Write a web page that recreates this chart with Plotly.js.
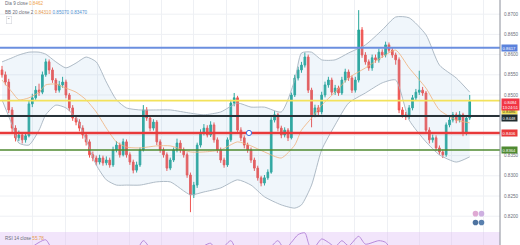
<!DOCTYPE html>
<html><head><meta charset="utf-8">
<script src="https://cdn.plot.ly/plotly-3.0.1.min.js"></script>
<style>html,body{margin:0;padding:0;background:#fff;overflow:hidden}#chart{width:520px;height:245px}</style>
</head><body><div id="chart"></div>
<script>
// ---- price data (daily candles) ----
const openP = [
0.8562,0.8550,0.8532,0.8463,0.8418,0.8394,0.8401,0.8389,0.8399,0.8478,
0.8493,0.8512,0.8507,0.8550,0.8582,0.8562,0.8537,0.8512,0.8525,0.8532,
0.8500,0.8468,0.8443,0.8433,0.8418,0.8401,0.8384,0.8352,0.8344,0.8334,
0.8344,0.8332,0.8339,0.8327,0.8364,0.8376,0.8352,0.8384,0.8352,0.8334,
0.8314,0.8327,0.8364,0.8463,0.8443,0.8418,0.8433,0.8384,0.8364,0.8352,
0.8319,0.8339,0.8364,0.8381,0.8364,0.8352,0.8302,0.8253,0.8277,0.8376,
0.8406,0.8418,0.8401,0.8426,0.8389,0.8364,0.8339,0.8327,0.8389,0.8480,
0.8493,0.8413,0.8394,0.8376,0.8364,0.8339,0.8319,0.8295,0.8282,0.8295,
0.8309,0.8438,0.8451,0.8418,0.8401,0.8413,0.8394,0.8500,0.8542,0.8562,
0.8574,0.8594,0.8512,0.8451,0.8468,0.8458,0.8500,0.8525,0.8537,0.8507,
0.8517,0.8505,0.8537,0.8557,0.8542,0.8512,0.8537,0.8661,0.8599,0.8582,
0.8567,0.8592,0.8587,0.8606,0.8599,0.8624,0.8611,0.8599,0.8587,0.8463,
0.8451,0.8446,0.8468,0.8493,0.8507,0.8512,0.8505,0.8413,0.8389,0.8394,
0.8369,0.8359,0.8352,0.8426,0.8438,0.8451,0.8438,0.8451,0.8406,0.8443];
const highP = [
0.8572,0.8558,0.8540,0.8470,0.8425,0.8412,0.8408,0.8407,0.8486,0.8503,
0.8522,0.8528,0.8558,0.8590,0.8588,0.8568,0.8542,0.8535,0.8545,0.8538,
0.8505,0.8475,0.8450,0.8440,0.8425,0.8408,0.8390,0.8360,0.8350,0.8352,
0.8350,0.8348,0.8345,0.8372,0.8386,0.8382,0.8392,0.8390,0.8358,0.8340,
0.8335,0.8370,0.8475,0.8470,0.8450,0.8440,0.8438,0.8390,0.8370,0.8358,
0.8345,0.8370,0.8392,0.8388,0.8370,0.8358,0.8308,0.8285,0.8382,0.8415,
0.8428,0.8425,0.8435,0.8432,0.8395,0.8370,0.8345,0.8395,0.8488,0.8505,
0.8498,0.8420,0.8400,0.8382,0.8370,0.8345,0.8325,0.8300,0.8302,0.8316,
0.8445,0.8460,0.8456,0.8424,0.8420,0.8418,0.8506,0.8550,0.8570,0.8582,
0.8605,0.8600,0.8518,0.8476,0.8475,0.8508,0.8533,0.8545,0.8543,0.8525,
0.8523,0.8545,0.8565,0.8563,0.8548,0.8545,0.8710,0.8668,0.8606,0.8588,
0.8600,0.8600,0.8615,0.8613,0.8632,0.8630,0.8617,0.8605,0.8593,0.8470,
0.8458,0.8475,0.8500,0.8515,0.8560,0.8520,0.8510,0.8420,0.8402,0.8400,
0.8375,0.8365,0.8432,0.8446,0.8458,0.8457,0.8460,0.8456,0.8450,0.8500];
const lowP = [
0.8543,0.8524,0.8455,0.8408,0.8385,0.8386,0.8380,0.8382,0.8395,0.8470,
0.8488,0.8498,0.8502,0.8545,0.8552,0.8530,0.8505,0.8506,0.8518,0.8492,
0.8460,0.8436,0.8425,0.8410,0.8392,0.8375,0.8345,0.8336,0.8326,0.8328,
0.8325,0.8326,0.8320,0.8322,0.8358,0.8345,0.8348,0.8345,0.8327,0.8306,
0.8308,0.8322,0.8360,0.8436,0.8410,0.8412,0.8376,0.8357,0.8345,0.8312,
0.8314,0.8334,0.8358,0.8357,0.8345,0.8295,0.8210,0.8245,0.8270,0.8370,
0.8400,0.8395,0.8396,0.8382,0.8357,0.8332,0.8320,0.8322,0.8384,0.8472,
0.8405,0.8386,0.8368,0.8357,0.8332,0.8312,0.8288,0.8274,0.8276,0.8290,
0.8305,0.8432,0.8410,0.8393,0.8395,0.8386,0.8390,0.8495,0.8536,0.8555,
0.8568,0.8505,0.8420,0.8445,0.8450,0.8452,0.8494,0.8518,0.8500,0.8500,
0.8498,0.8500,0.8531,0.8535,0.8505,0.8506,0.8531,0.8592,0.8575,0.8560,
0.8560,0.8580,0.8580,0.8592,0.8593,0.8605,0.8592,0.8575,0.8455,0.8444,
0.8438,0.8440,0.8462,0.8487,0.8500,0.8498,0.8405,0.8380,0.8382,0.8362,
0.8352,0.8344,0.8347,0.8420,0.8432,0.8430,0.8432,0.8398,0.8400,0.8438];
const closeP = [
0.8550,0.8532,0.8463,0.8418,0.8394,0.8401,0.8389,0.8399,0.8478,0.8493,
0.8512,0.8507,0.8550,0.8582,0.8562,0.8537,0.8512,0.8525,0.8532,0.8500,
0.8468,0.8443,0.8433,0.8418,0.8401,0.8384,0.8352,0.8344,0.8334,0.8344,
0.8332,0.8339,0.8327,0.8364,0.8376,0.8352,0.8384,0.8352,0.8334,0.8314,
0.8327,0.8364,0.8463,0.8443,0.8418,0.8433,0.8384,0.8364,0.8352,0.8319,
0.8339,0.8364,0.8381,0.8364,0.8352,0.8302,0.8253,0.8277,0.8376,0.8406,
0.8418,0.8401,0.8426,0.8389,0.8364,0.8339,0.8327,0.8389,0.8480,0.8493,
0.8413,0.8394,0.8376,0.8364,0.8339,0.8319,0.8295,0.8282,0.8295,0.8309,
0.8438,0.8451,0.8418,0.8401,0.8413,0.8394,0.8500,0.8542,0.8562,0.8574,
0.8594,0.8512,0.8451,0.8468,0.8458,0.8500,0.8525,0.8537,0.8507,0.8517,
0.8505,0.8537,0.8557,0.8542,0.8512,0.8537,0.8661,0.8599,0.8582,0.8567,
0.8592,0.8587,0.8606,0.8599,0.8624,0.8611,0.8599,0.8587,0.8463,0.8451,
0.8446,0.8468,0.8493,0.8507,0.8512,0.8505,0.8413,0.8389,0.8394,0.8369,
0.8359,0.8352,0.8426,0.8438,0.8451,0.8438,0.8451,0.8406,0.8443,0.8484];

// ---- Bollinger bands (at sample bars) ----
const bandIdx = [0,3,5,8,11,13,16,19,22,25,28,31,34,37,41,46,50,56,60,65,70,74,78,83,87,89,92,95,99,103,108,113,117,121,126,130,135,139];
const bbUpper = [0.8582,0.8592,0.8599,0.8606,0.8606,0.8601,0.8582,0.8567,0.8579,0.8594,0.8582,0.8532,0.8488,0.8468,0.8463,0.8463,0.8463,0.8455,0.8451,0.8458,0.8480,0.8470,0.8470,0.8458,0.8537,0.8604,0.8606,0.8587,0.8587,0.8604,0.8624,0.8661,0.8693,0.8691,0.8649,0.8574,0.8542,0.8507];
const bbLower = [0.8488,0.8426,0.8381,0.8376,0.8413,0.8451,0.8475,0.8468,0.8443,0.8389,0.8327,0.8290,0.8277,0.8277,0.8277,0.8285,0.8285,0.8253,0.8260,0.8270,0.8290,0.8277,0.8248,0.8228,0.8220,0.8228,0.8277,0.8364,0.8426,0.8480,0.8505,0.8530,0.8537,0.8438,0.8384,0.8352,0.8334,0.8347];
const bbBasis = [0.8537,0.8507,0.8488,0.8493,0.8507,0.8525,0.8527,0.8517,0.8507,0.8488,0.8458,0.8418,0.8384,0.8371,0.8369,0.8374,0.8374,0.8359,0.8359,0.8364,0.8384,0.8374,0.8359,0.8344,0.8376,0.8413,0.8443,0.8475,0.8507,0.8542,0.8567,0.8594,0.8611,0.8567,0.8517,0.8463,0.8438,0.8431];

// ---- RSI (14) ----
const rsiIdx = [0,4,8,11,13,15,20,26,32,38,42,45,50,56,58,62,64,68,70,76,80,82,84,86,88,90,91,92,95,97,99,101,103,106,108,112,114,118,122,126,131,134,137,139];
const rsiVal = [50,38,52,60,63,52,42,32,35,36,62,48,40,30,50,59,48,62,48,35,55,62,52,60,69,71,60,50,64,60,55,62,56,67,58,62,60,40,50,38,33,48,42,55.78];

// ---- horizontal levels ----
const levelPrices = [0.8617, 0.8486, 0.8448, 0.8406, 0.8364];
const levelText = ['0.8617', '0.8486', '0.8448', '0.8406', '0.8364'];
const currentPrice = 0.8484;
const currentText = '0.8484';
const countdown = '13:24:51';
const yTickVals = [0.8200,0.8250,0.8300,0.8350,0.8500,0.8550,0.8600,0.8650,0.8700];
const yTickText = ['0.8200','0.8250','0.8300','0.8350','0.8500','0.8550','0.8600','0.8650','0.8700'];
const gridPrices = [0.8200,0.8250,0.8300,0.8350,0.8400,0.8450,0.8500,0.8550,0.8600,0.8650,0.8700];
const legendMA = {name: 'Dia 9 close', value: '0.8462'};
const legendBB = {name: 'BB 20 close 2', values: ['0.84310', '0.85070', '0.83470']};
const legendRSI = {name: 'RSI 14 close', value: '55.78'};

// ---- styles ----
const levelColors = ['#6b8fdf', '#f3e25b', '#283238', '#e8393a', '#4f8a31'];
const levelWidths = [2, 1.6, 2, 2.6, 1.5];
const labelBg = ['#5b82dc', '#f3e25b', '#1f2b2e', '#e8393a', '#4f8a31'];
const labelFg = ['#ffffff', '#3a3a1a', '#ffffff', '#ffffff', '#ffffff'];
const labelShift = [0, -10.5, -1.5, 0, 0];

const idx = closeP.map((_, i) => i);
const gridX = [];
for (let g = 9.2; g < 148; g += 9.57) gridX.push(g);

const mainDomain = [13 / 245, 1];
const yRange = [0.81609, 0.87351];

const traces = [
  {type: 'scatter', mode: 'lines', x: bandIdx, y: bbLower, line: {color: '#a6b3c0', width: 0.9, shape: 'spline', smoothing: 0.6},
   hoverinfo: 'skip', showlegend: false},
  {type: 'scatter', mode: 'lines', x: bandIdx, y: bbUpper, line: {color: '#a6b3c0', width: 0.9, shape: 'spline', smoothing: 0.6},
   fill: 'tonexty', fillcolor: 'rgba(140,185,225,0.13)', hoverinfo: 'skip', showlegend: false},
  {type: 'scatter', mode: 'lines', x: bandIdx, y: bbBasis, line: {color: '#f0b07a', width: 0.8, shape: 'spline', smoothing: 0.6},
   hoverinfo: 'skip', showlegend: false},
  {type: 'candlestick', x: idx, open: openP, high: highP, low: lowP, close: closeP,
   increasing: {line: {color: '#26a69a', width: 1}, fillcolor: '#26a69a'},
   decreasing: {line: {color: '#ef5350', width: 1}, fillcolor: '#ef5350'},
   whiskerwidth: 0, showlegend: false, hoverinfo: 'skip'},
  {type: 'scatter', mode: 'lines', x: rsiIdx, y: rsiVal, xaxis: 'x2', yaxis: 'y2',
   line: {color: '#b07fd6', width: 0.9, shape: 'spline', smoothing: 0.7}, hoverinfo: 'skip', showlegend: false}
];

const shapes = [];
// RSI panel background
shapes.push({type: 'rect', xref: 'paper', yref: 'paper', x0: 0, x1: 1, y0: 0, y1: mainDomain[0],
  fillcolor: '#f2e5fb', line: {width: 0}, layer: 'below'});
// horizontal grid at every price step (labels hidden behind level boxes)
gridPrices.forEach(p => {
  shapes.push({type: 'line', xref: 'paper', x0: 0, x1: 1, yref: 'y', y0: p, y1: p, line: {color: '#eef0f4', width: 1}, layer: 'below'});
});
levelPrices.forEach((p, k) => {
  shapes.push({type: 'line', xref: 'paper', x0: 0, x1: 1, yref: 'y', y0: p, y1: p,
    line: {color: levelColors[k], width: levelWidths[k]}});
});
// right price-scale border
shapes.push({type: 'line', xref: 'paper', yref: 'paper', x0: 1, x1: 1, y0: 0, y1: 1, line: {color: '#8a8e99', width: 1}});
// drawing anchor on the red line
shapes.push({type: 'circle', xref: 'x', yref: 'y', xsizemode: 'pixel', ysizemode: 'pixel',
  xanchor: 73.4, yanchor: levelPrices[3], x0: -2.6, x1: 2.6, y0: -2.6, y1: 2.6,
  fillcolor: '#ffffff', line: {color: '#3b6fe0', width: 1}});
// logo roundels
[[0.951, 0.128, '#d99acb'], [0.963, 0.128, '#c5a2dc'], [0.951, 0.092, '#2f5a8f'], [0.963, 0.092, '#3c6aa0']].forEach(c => {
  shapes.push({type: 'circle', xref: 'paper', yref: 'paper', xsizemode: 'pixel', ysizemode: 'pixel',
    xanchor: c[0], yanchor: c[1], x0: -2.8, x1: 2.8, y0: -2.8, y1: 2.8, fillcolor: c[2], line: {width: 0}, opacity: 0.85});
});

const small = {family: 'Liberation Sans, Arial, sans-serif', size: 4.6, color: '#6a6d78'};
const annotations = [];
levelPrices.forEach((p, k) => {
  annotations.push({xref: 'paper', x: 1, xanchor: 'left', xshift: 1, yref: 'y', y: p, yanchor: 'middle', yshift: labelShift[k],
    text: levelText[k], showarrow: false, bgcolor: labelBg[k], borderpad: 0.6,
    font: {family: small.family, size: 4.2, color: labelFg[k]}});
});
annotations.push({xref: 'paper', x: 1, xanchor: 'left', xshift: 1, yref: 'y', y: currentPrice, yanchor: 'top', yshift: 3.5,
  text: currentText + '<br>' + countdown, showarrow: false, bgcolor: '#f23645', borderpad: 0.5,
  font: {family: small.family, size: 4.0, color: '#ffffff'}});
annotations.push({xref: 'paper', yref: 'paper', x: 0.006, y: 1 - 4 / 245, xanchor: 'left', yanchor: 'middle', showarrow: false,
  text: legendMA.name + ' <span style="color:#f0a34a">' + legendMA.value + '</span>', font: small});
annotations.push({xref: 'paper', yref: 'paper', x: 0.006, y: 1 - 13 / 245, xanchor: 'left', yanchor: 'middle', showarrow: false,
  text: legendBB.name + ' <span style="color:#e59a4f">' + legendBB.values[0] + '</span> <span style="color:#4f8fd0">' +
    legendBB.values[1] + '</span> <span style="color:#4f8fd0">' + legendBB.values[2] + '</span>', font: small});
annotations.push({xref: 'paper', yref: 'paper', x: 0.011, y: 1 - 20 / 245, xanchor: 'left', yanchor: 'middle', showarrow: false,
  text: '⌃', bordercolor: '#d4d6dc', borderwidth: 0.6, borderpad: 0.8, bgcolor: '#ffffff', font: {family: small.family, size: 4, color: '#555'}});
annotations.push({xref: 'paper', yref: 'paper', x: 0.006, y: mainDomain[0] - 2 / 245, xanchor: 'left', yanchor: 'top', showarrow: false,
  text: legendRSI.name + ' <span style="color:#e59a4f">' + legendRSI.value + '</span>', font: small});

const layout = {
  width: 520, height: 245,
  margin: {l: 0, r: 20, t: 0, b: 0, pad: 0},
  paper_bgcolor: '#ffffff', plot_bgcolor: 'rgba(0,0,0,0)',
  showlegend: false, dragmode: false,
  xaxis: {range: [-0.6, 148.0], domain: [0, 1], anchor: 'y', showticklabels: false, ticks: '',
    tickvals: gridX, showgrid: true, gridcolor: '#eef0f4', gridwidth: 1, zeroline: false, showline: false,
    rangeslider: {visible: false}, fixedrange: true},
  yaxis: {range: yRange, domain: mainDomain, anchor: 'x', side: 'right', tickvals: yTickVals, ticktext: yTickText,
    tickfont: small, ticks: '', ticklabelstandoff: 3, showgrid: false,
    zeroline: false, showline: false, fixedrange: true},
  xaxis2: {matches: 'x', anchor: 'y2', domain: [0, 1], showticklabels: false, ticks: '', tickvals: gridX,
    showgrid: true, gridcolor: '#e8dcf3', zeroline: false, showline: false, fixedrange: true},
  yaxis2: {range: [57, 72], domain: [0, mainDomain[0]], anchor: 'x2', side: 'right', tickvals: [60], ticktext: ['60.00'],
    tickfont: small, ticks: '', ticklabelstandoff: 3, showgrid: false, zeroline: false, showline: false, fixedrange: true},
  shapes: shapes,
  annotations: annotations
};

Plotly.newPlot('chart', traces, layout, {staticPlot: true, displayModeBar: false});
</script>
</body></html>
